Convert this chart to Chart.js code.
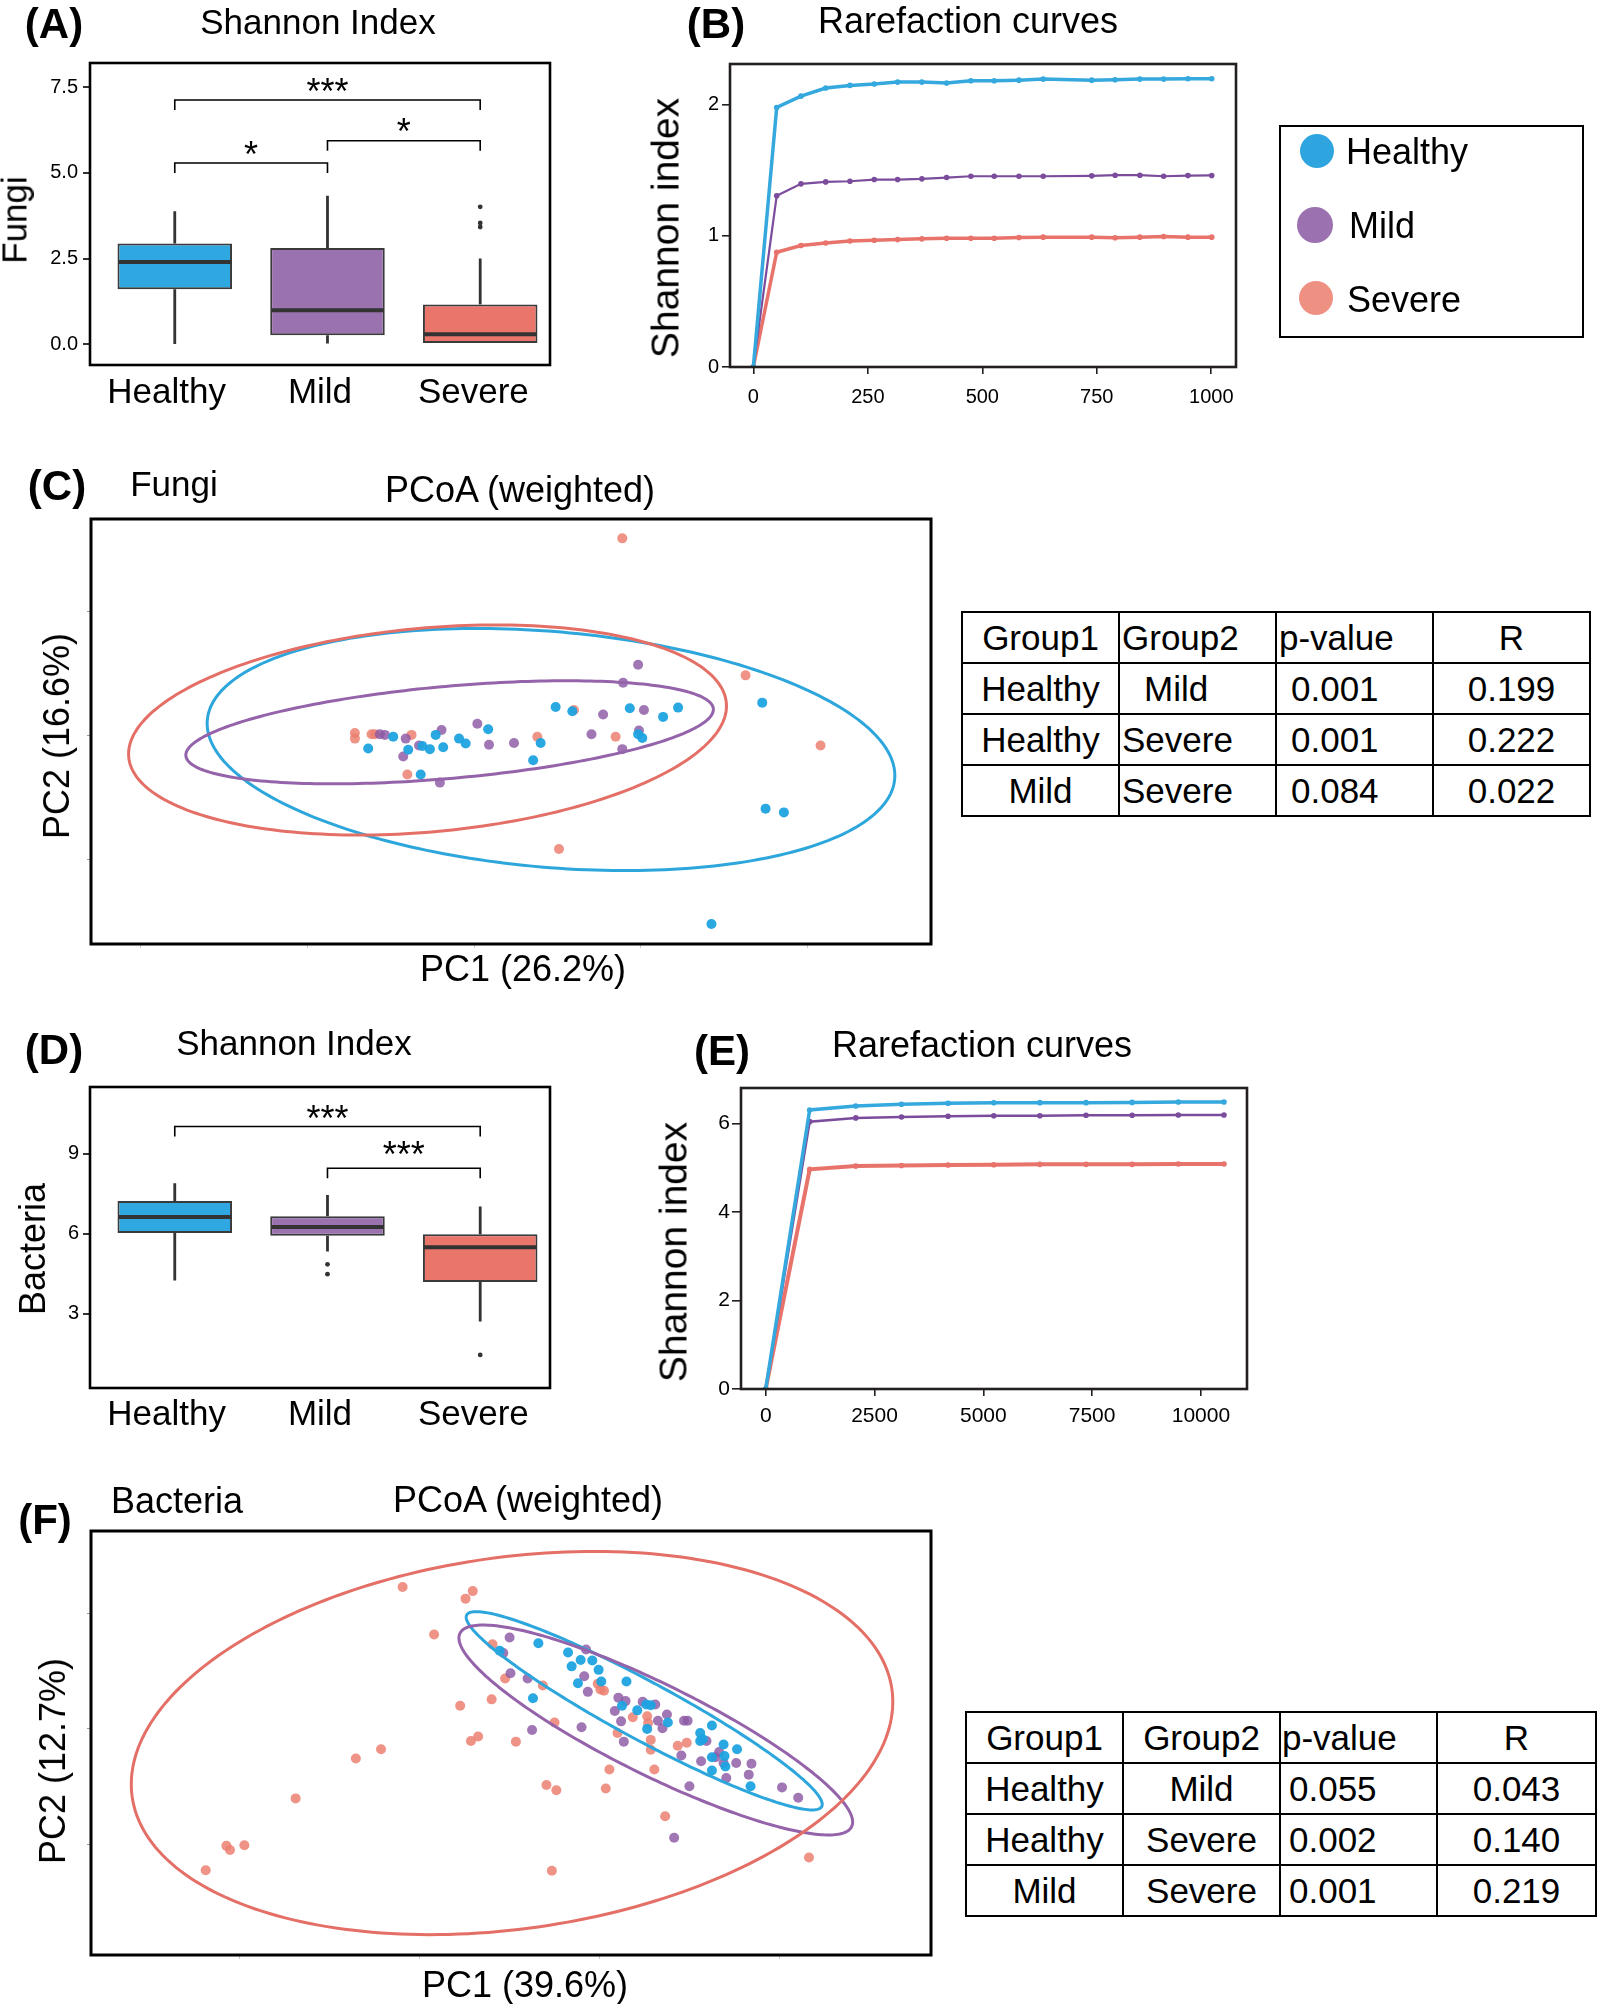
<!DOCTYPE html>
<html>
<head>
<meta charset="utf-8">
<script src="https://cdn.jsdelivr.net/npm/chart.js@4.4.1/dist/chart.umd.min.js"></script>
<style>
html,body{margin:0;padding:0;background:#fff;}
body{width:1600px;height:2004px;position:relative;overflow:hidden;font-family:"Liberation Sans",Arial,Helvetica,sans-serif;color:#000;}
canvas{position:absolute;}
.t{position:absolute;white-space:nowrap;transform:translate(-50%,-50%);line-height:1;}
.tl{position:absolute;white-space:nowrap;transform:translate(0,-50%);line-height:1;}
.b{font-weight:bold;}
table.st{position:absolute;border-collapse:collapse;table-layout:fixed;font-size:35px;line-height:1;}
table.st td{border:2.5px solid #000;padding:0;height:49px;white-space:nowrap;overflow:visible;}
td.c{text-align:center;}
td.l{text-align:left;}
.legend{position:absolute;left:1279px;top:125px;width:305px;height:213px;border:2.5px solid #000;box-sizing:border-box;}
.dot{position:absolute;border-radius:50%;transform:translate(-50%,-50%);}
</style>
</head>
<body>
<canvas id="cA" width="600" height="397" style="left:0px;top:33px"></canvas>
<canvas id="cB" width="640" height="391" style="left:640px;top:34px"></canvas>
<canvas id="cC" width="900" height="486" style="left:61px;top:489px"></canvas>
<canvas id="cD" width="600" height="393" style="left:0px;top:1057px"></canvas>
<canvas id="cE" width="650" height="392" style="left:640px;top:1058px"></canvas>
<canvas id="cF" width="900" height="489" style="left:61px;top:1501px"></canvas>

<!-- Panel labels & titles -->
<div class="t b" style="left:54px;top:24px;font-size:42px">(A)</div>
<div class="t" style="left:318px;top:21px;font-size:35px">Shannon Index</div>
<div class="t" style="left:14px;top:220px;font-size:35px;transform:translate(-50%,-50%) rotate(-90deg)">Fungi</div>

<div class="t b" style="left:716px;top:24px;font-size:42px">(B)</div>
<div class="t" style="left:968px;top:21px;font-size:36px">Rarefaction curves</div>
<div class="t" style="left:665px;top:228px;font-size:39px;transform:translate(-50%,-50%) rotate(-90deg)">Shannon index</div>

<div class="legend">
  <div class="dot" style="left:36px;top:24px;width:34px;height:34px;background:#2FA5DF"></div>
  <div class="tl" style="left:65px;top:25px;font-size:36px">Healthy</div>
  <div class="dot" style="left:34px;top:98px;width:36px;height:36px;background:#9B71B0"></div>
  <div class="tl" style="left:68px;top:99px;font-size:36px">Mild</div>
  <div class="dot" style="left:35px;top:171px;width:34px;height:34px;background:#EE9183"></div>
  <div class="tl" style="left:66px;top:173px;font-size:36px">Severe</div>
</div>

<div class="t b" style="left:57px;top:486px;font-size:42px">(C)</div>
<div class="t" style="left:174px;top:483px;font-size:35px">Fungi</div>
<div class="t" style="left:520px;top:490px;font-size:36px">PCoA (weighted)</div>
<div class="t" style="left:523px;top:969px;font-size:36px">PC1 (26.2%)</div>
<div class="t" style="left:57px;top:736px;font-size:36px;transform:translate(-50%,-50%) rotate(-90deg)">PC2 (16.6%)</div>

<table class="st" style="left:961px;top:611px;width:628px;">
<colgroup><col style="width:157px"><col style="width:157px"><col style="width:157px"><col style="width:157px"></colgroup>
<tr><td class="c">Group1</td><td class="l" style="padding-left:2px">Group2</td><td class="l" style="padding-left:2px">p-value</td><td class="c">R</td></tr>
<tr><td class="c">Healthy</td><td class="l" style="padding-left:24px">Mild</td><td class="l" style="padding-left:14px">0.001</td><td class="c">0.199</td></tr>
<tr><td class="c">Healthy</td><td class="l" style="padding-left:2px">Severe</td><td class="l" style="padding-left:14px">0.001</td><td class="c">0.222</td></tr>
<tr><td class="c">Mild</td><td class="l" style="padding-left:2px">Severe</td><td class="l" style="padding-left:14px">0.084</td><td class="c">0.022</td></tr>
</table>

<div class="t b" style="left:54px;top:1050px;font-size:42px">(D)</div>
<div class="t" style="left:294px;top:1042px;font-size:35px">Shannon Index</div>
<div class="t" style="left:33px;top:1249px;font-size:36px;transform:translate(-50%,-50%) rotate(-90deg)">Bacteria</div>

<div class="t b" style="left:722px;top:1051px;font-size:42px">(E)</div>
<div class="t" style="left:982px;top:1045px;font-size:36px">Rarefaction curves</div>
<div class="t" style="left:673px;top:1252px;font-size:39px;transform:translate(-50%,-50%) rotate(-90deg)">Shannon index</div>

<div class="t b" style="left:45px;top:1520px;font-size:42px">(F)</div>
<div class="t" style="left:177px;top:1501px;font-size:36px">Bacteria</div>
<div class="t" style="left:528px;top:1500px;font-size:36px">PCoA (weighted)</div>
<div class="t" style="left:525px;top:1985px;font-size:36px">PC1 (39.6%)</div>
<div class="t" style="left:53px;top:1761px;font-size:36px;transform:translate(-50%,-50%) rotate(-90deg)">PC2 (12.7%)</div>

<table class="st" style="left:965px;top:1711px;width:630px;">
<colgroup><col style="width:157px"><col style="width:157px"><col style="width:157px"><col style="width:159px"></colgroup>
<tr><td class="c">Group1</td><td class="c">Group2</td><td class="l" style="padding-left:1px">p-value</td><td class="c">R</td></tr>
<tr><td class="c">Healthy</td><td class="c">Mild</td><td class="l" style="padding-left:8px">0.055</td><td class="c">0.043</td></tr>
<tr><td class="c">Healthy</td><td class="c">Severe</td><td class="l" style="padding-left:8px">0.002</td><td class="c">0.140</td></tr>
<tr><td class="c">Mild</td><td class="c">Severe</td><td class="l" style="padding-left:8px">0.001</td><td class="c">0.219</td></tr>
</table>

<script>
// ---------------- DATA ----------------
const groups = ['Healthy', 'Mild', 'Severe'];
const groupIndex = [0, 1, 2];

// (A) Fungi Shannon index box plots
const fungiLow = [0.00, 0.02, 0.00];
const fungiQ1 = [1.60, 0.26, 0.00];
const fungiMedian = [2.40, 0.99, 0.29];
const fungiQ3 = [2.94, 2.81, 1.16];
const fungiHigh = [3.88, 4.33, 2.50];
const fungiOutliers = [[], [], [3.42, 3.54, 4.01]];
const fungiBrackets = [[0, 2, 7.13, '***'], [0, 1, 5.29, '*'], [1, 2, 5.94, '*']];
const fungiTicksY = [0, 2.5, 5, 7.5];

// (B) Fungi rarefaction curves
const rareFungiX = [0, 51, 104, 158, 211, 264, 315, 368, 422, 475, 526, 580, 633, 739, 790, 844, 896, 949, 1001];
const rareFungiHealthy = [0, 1.977, 2.063, 2.125, 2.145, 2.155, 2.170, 2.170, 2.163, 2.180, 2.180, 2.185, 2.193, 2.185, 2.188, 2.193, 2.193, 2.196, 2.196];
const rareFungiMild = [0, 1.304, 1.395, 1.410, 1.415, 1.428, 1.428, 1.433, 1.443, 1.453, 1.453, 1.453, 1.453, 1.456, 1.461, 1.461, 1.453, 1.458, 1.459];
const rareFungiSevere = [0, 0.874, 0.925, 0.945, 0.960, 0.966, 0.971, 0.976, 0.981, 0.981, 0.981, 0.986, 0.989, 0.989, 0.984, 0.989, 0.994, 0.989, 0.989];
const rareFungiTicksX = [0, 250, 500, 750, 1000];
const rareFungiTicksY = [0, 1, 2];

// (C) Fungi PCoA (PC1, PC2)
const pcoaFungiHealthy = [[-0.127,-0.021],[-0.097,-0.002],[-0.079,-0.023],[-0.062,-0.017],[-0.053,-0.022],[-0.046,0.001],[-0.037,-0.019],[-0.018,-0.005],[-0.010,-0.013],[0.017,0.010],[0.080,-0.012],[0.071,-0.040],[-0.064,-0.063],[0.098,0.046],[0.118,0.039],[0.187,0.044],[0.227,0.030],[0.245,0.045],[0.197,0.002],[0.202,-0.004],[0.285,-0.304],[0.346,0.053],[0.350,-0.118],[0.372,-0.124]];
const pcoaFungiMild = [[0.197,0.114],[0.179,0.085],[0.204,0.041],[0.155,0.034],[0.141,0.002],[0.198,0.008],[0.178,-0.022],[0.048,-0.012],[0.018,-0.015],[0.004,0.019],[-0.039,0.009],[-0.082,-0.005],[-0.085,-0.034],[-0.041,-0.076],[-0.066,-0.016],[-0.113,0.002],[-0.107,0.001]];
const pcoaFungiSevere = [[-0.143,0.004],[-0.143,-0.005],[-0.123,0.002],[-0.119,0.002],[-0.075,0.001],[-0.080,-0.063],[0.076,-0.002],[0.120,0.041],[0.170,-0.002],[0.178,0.318],[0.326,0.097],[0.416,-0.016],[0.102,-0.183]];
// ellipse: centre x, centre y, semi-axis 1 (dx, dy), semi-axis 2 (dx, dy)
const ellFungiHealthy = [0.0924, -0.0226, 0.4126, -0.0476, -0.0121, -0.1894];
const ellFungiMild = [-0.0293, 0.0052, 0.3166, 0.0379, 0.0049, -0.0740];
const ellFungiSevere = [-0.0558, 0.0089, 0.3587, 0.0437, 0.0110, -0.1637];
const pcoaFungiTicksX = [-0.4, -0.2, 0, 0.2, 0.4];
const pcoaFungiTicksY = [-0.2, 0, 0.2];

// (D) Bacteria Shannon index box plots
const bactLow = [4.25, 5.34, 2.71];
const bactQ1 = [6.03, 5.93, 4.20];
const bactMedian = [6.63, 6.26, 5.50];
const bactQ3 = [7.23, 6.66, 5.99];
const bactHigh = [7.90, 7.46, 7.03];
const bactOutliers = [[], [4.49, 4.86], [1.46]];
const bactBrackets = [[0, 2, 10.03, '***'], [1, 2, 8.46, '***']];
const bactTicksY = [3, 6, 9];

// (E) Bacteria rarefaction curves
const rareBactX = [0, 1010, 2070, 3120, 4190, 5240, 6300, 7360, 8420, 9480, 10530];
const rareBactHealthy = [0, 6.31, 6.40, 6.44, 6.46, 6.47, 6.475, 6.475, 6.48, 6.49, 6.49];
const rareBactMild = [0, 6.045, 6.13, 6.15, 6.166, 6.18, 6.18, 6.19, 6.19, 6.196, 6.196];
const rareBactSevere = [0, 4.966, 5.04, 5.055, 5.064, 5.07, 5.08, 5.08, 5.08, 5.087, 5.087];
const rareBactTicksX = [0, 2500, 5000, 7500, 10000];
const rareBactTicksY = [0, 2, 4, 6];

// (F) Bacteria PCoA
const pcoaBactHealthy = [[0.132,0.148],[0.089,0.135],[0.165,0.132],[0.169,0.108],[0.179,0.119],[0.192,0.118],[0.199,0.102],[0.176,0.079],[0.202,0.082],[0.230,0.082],[0.126,0.053],[0.225,0.040],[0.242,0.032],[0.252,0.042],[0.257,0.041],[0.276,0.011],[0.253,0.000],[0.312,-0.007],[0.315,-0.018],[0.325,0.006],[0.338,-0.027],[0.353,-0.035],[0.325,-0.049],[0.339,-0.047],[0.340,-0.065],[0.325,-0.072],[0.368,-0.099],[0.312,-0.021]];
const pcoaBactMild = [[0.100,0.158],[0.093,0.131],[0.101,0.096],[0.120,0.087],[0.185,0.137],[0.183,0.091],[0.187,0.064],[0.221,0.054],[0.229,0.048],[0.217,0.031],[0.224,0.013],[0.248,0.047],[0.262,0.042],[0.265,0.014],[0.275,0.025],[0.270,0.001],[0.294,0.014],[0.298,0.014],[0.227,-0.022],[0.180,0.003],[0.125,-0.002],[0.291,-0.046],[0.313,-0.056],[0.319,-0.021],[0.333,-0.040],[0.352,-0.059],[0.341,-0.085],[0.366,-0.079],[0.369,-0.060],[0.300,-0.099],[0.403,-0.101],[0.421,-0.119],[0.283,-0.188],[0.329,-0.049],[0.338,-0.059]];
const pcoaBactSevere = [[-0.019,0.245],[0.051,0.225],[0.059,0.238],[0.016,0.163],[0.081,0.146],[0.095,0.087],[0.137,0.075],[0.045,0.040],[0.080,0.051],[0.057,-0.021],[0.065,-0.013],[0.107,-0.022],[0.150,0.011],[-0.043,-0.035],[-0.071,-0.051],[-0.138,-0.120],[-0.215,-0.202],[-0.211,-0.209],[-0.195,-0.201],[-0.238,-0.244],[0.147,-0.245],[0.141,-0.097],[0.152,-0.106],[0.207,-0.103],[0.211,-0.070],[0.273,-0.151],[0.261,-0.070],[0.433,-0.222],[0.198,0.078],[0.201,0.068],[0.205,0.066],[0.220,-0.007],[0.237,0.020],[0.254,0.010],[0.257,-0.019],[0.257,-0.036],[0.253,0.022],[0.287,-0.029],[0.297,-0.024]];
const ellBactHealthy = [0.2497, 0.0313, 0.1974, -0.1655, -0.0154, -0.0440];
const ellBactMild = [0.2626, -0.0019, 0.2178, -0.1670, -0.0225, -0.0705];
const ellBactSevere = [0.1027, -0.0244, 0.4225, 0.0931, 0.0290, -0.3176];
const pcoaBactTicksX = [-0.2, 0, 0.2, 0.4];
const pcoaBactTicksY = [-0.2, 0, 0.2];

// ---------------- STYLE ----------------
const boxFill = ['#2FA7E0', '#9A72AF', '#EA756B'];
const lineCol = ['#35A8DE', '#7B4C9B', '#E8736B'];
const ptCol = ['rgba(30,163,224,0.95)', 'rgba(140,88,165,0.82)', 'rgba(236,128,114,0.85)'];
const ellCol = ['#2DA6DB', '#9563AA', '#E46F66'];
const fungiStarGap = [4, 4, 3];
const bactStarGap = [5, -1];

Chart.defaults.font.family = '"Liberation Sans", Arial, Helvetica, sans-serif';
Chart.defaults.color = '#000';

// ---------------- PLUGINS ----------------
const framePlugin = {
  id: 'frame',
  afterDraw(chart, args, o) {
    const a = chart.chartArea, c = chart.ctx;
    c.save();
    c.strokeStyle = o.color || '#000';
    c.lineWidth = o.width || 2.5;
    c.strokeRect(a.left, a.top, a.right - a.left, a.bottom - a.top);
    c.restore();
  }
};

const boxDecor = {
  id: 'boxDecor',
  afterDatasetsDraw(chart, args, o) {
    const c = chart.ctx, x = chart.scales.x, y = chart.scales.y;
    const meta = chart.getDatasetMeta(0);
    c.save();
    o.median.forEach((m, i) => {
      const bar = meta.data[i];
      const cx = bar.x, hw = bar.width / 2;
      c.strokeStyle = '#333333';
      c.lineWidth = 2.8;
      c.beginPath();
      c.moveTo(cx, y.getPixelForValue(o.q3[i])); c.lineTo(cx, y.getPixelForValue(o.high[i]));
      c.moveTo(cx, y.getPixelForValue(o.q1[i])); c.lineTo(cx, y.getPixelForValue(o.low[i]));
      c.stroke();
      c.lineWidth = 4;
      const my = y.getPixelForValue(m);
      c.beginPath(); c.moveTo(cx - hw + 1, my); c.lineTo(cx + hw - 1, my); c.stroke();
      c.fillStyle = '#333333';
      o.outliers[i].forEach(v => {
        c.beginPath(); c.arc(cx, y.getPixelForValue(v), 2.4, 0, Math.PI * 2); c.fill();
      });
    });
    c.strokeStyle = '#000'; c.fillStyle = '#000'; c.lineWidth = 1.6;
    c.font = '36px "Liberation Sans", Arial, sans-serif';
    c.textAlign = 'center'; c.textBaseline = 'alphabetic';
    o.brackets.forEach((b, k) => {
      const x1 = x.getPixelForValue(b[0]), x2 = x.getPixelForValue(b[1]), by = y.getPixelForValue(b[2]);
      c.beginPath();
      c.moveTo(x1, by + 10); c.lineTo(x1, by); c.lineTo(x2, by); c.lineTo(x2, by + 10);
      c.stroke();
      c.fillText(b[3], (x1 + x2) / 2, by + o.gaps[k]);
    });
    c.restore();
  }
};

const ellipsePlugin = {
  id: 'ellipses',
  afterDatasetsDraw(chart, args, o) {
    const x = chart.scales.x, y = chart.scales.y, c = chart.ctx;
    c.save();
    c.lineWidth = o.width;
    o.items.forEach((e, j) => {
      c.strokeStyle = ellCol[j];
      c.beginPath();
      for (let k = 0; k <= 240; k++) {
        const t = k / 240 * Math.PI * 2;
        const vx = e[0] + e[2] * Math.cos(t) + e[4] * Math.sin(t);
        const vy = e[1] + e[3] * Math.cos(t) + e[5] * Math.sin(t);
        const px = x.getPixelForValue(vx), py = y.getPixelForValue(vy);
        if (k === 0) c.moveTo(px, py); else c.lineTo(px, py);
      }
      c.closePath();
      c.stroke();
    });
    c.restore();
  }
};

function setTicks(arr) { return s => { s.ticks = arr.map(v => ({ value: v })); }; }
function fixW(w) { return s => { s.width = w; }; }
function fixH(h) { return s => { s.height = h; }; }

// ---------------- BOX PLOTS ----------------
function boxChart(id, q1, q3, med, low, high, outl, brackets, gaps, ticksY, ymin, ymax, fmt, yW, xH, xPad, yPad, padR) {
  return new Chart(document.getElementById(id), {
    type: 'bar',
    data: {
      datasets: [{
        xAxisID: 'x',
        data: groupIndex.map(i => ({ x: i, y: [q1[i], q3[i]] })),
        backgroundColor: boxFill,
        borderColor: '#3a3a3a',
        borderWidth: 2,
        borderSkipped: false,
        barPercentage: 0.75,
        categoryPercentage: 1.0
      }]
    },
    options: {
      responsive: false, animation: false, devicePixelRatio: 1,
      layout: { padding: { top: 30, right: padR, left: 0, bottom: 0 } },
      plugins: {
        legend: { display: false }, tooltip: { enabled: false },
        frame: { width: 2.6 },
        boxDecor: { q1: q1, q3: q3, median: med, low: low, high: high, outliers: outl, brackets: brackets, gaps: gaps }
      },
      scales: {
        x: {
          type: 'linear', min: -0.555, max: 2.457, position: 'bottom', offset: false,
          afterBuildTicks: setTicks(groupIndex),
          grid: { display: false, drawTicks: false, offset: false }, border: { display: false },
          ticks: { display: false },
          afterFit: fixH(0)
        },
        xc: {
          type: 'category', labels: groups, offset: true, position: 'bottom',
          grid: { display: false, drawTicks: false }, border: { display: false },
          ticks: { font: { size: 35 }, padding: xPad, color: '#000', maxRotation: 0 },
          afterFit: fixH(xH)
        },
        y: {
          type: 'linear', min: ymin, max: ymax,
          afterBuildTicks: setTicks(ticksY),
          grid: { drawOnChartArea: false, drawTicks: true, tickLength: 7, color: '#333', lineWidth: 2 },
          border: { display: false },
          ticks: { font: { size: 20 }, padding: yPad, color: '#000', callback: fmt },
          afterFit: fixW(yW)
        }
      }
    },
    plugins: [boxDecor, framePlugin]
  });
}

boxChart('cA', fungiQ1, fungiQ3, fungiMedian, fungiLow, fungiHigh, fungiOutliers, fungiBrackets, fungiStarGap,
  fungiTicksY, -0.61, 8.21, v => v.toFixed(1), 90, 65, 7, 5, 50);
boxChart('cD', bactQ1, bactQ3, bactMedian, bactLow, bactHigh, bactOutliers, bactBrackets, bactStarGap,
  bactTicksY, 0.22, 11.51, v => String(v), 90, 62, 6, 4, 50);

// ---------------- RAREFACTION ----------------
function rareChart(id, xs, series, ticksX, ticksY, xmin, xmax, ymax, yW, xH, padR, xPad, yPad, widths, fs, yTick) {
  return new Chart(document.getElementById(id), {
    type: 'scatter',
    data: {
      datasets: series.map((s, j) => ({
        data: xs.map((xv, i) => ({ x: xv, y: s[i] })),
        showLine: true,
        borderColor: lineCol[j],
        backgroundColor: lineCol[j],
        borderWidth: widths[j],
        pointRadius: 2.8,
        pointBorderWidth: 0,
        pointBackgroundColor: lineCol[j],
        tension: 0
      }))
    },
    options: {
      responsive: false, animation: false, devicePixelRatio: 1,
      layout: { padding: { top: 30, right: padR, left: 0, bottom: 0 } },
      plugins: { legend: { display: false }, tooltip: { enabled: false }, frame: { width: 2.6, color: '#231F20' } },
      scales: {
        x: {
          type: 'linear', min: xmin, max: xmax,
          afterBuildTicks: setTicks(ticksX),
          grid: { drawOnChartArea: false, drawTicks: true, tickLength: 7, color: '#231F20', lineWidth: 1.6 },
          border: { display: false },
          ticks: { font: { size: fs }, padding: xPad, color: '#000', maxRotation: 0, callback: v => String(v) },
          afterFit: fixH(xH)
        },
        y: {
          type: 'linear', min: 0, max: ymax,
          afterBuildTicks: setTicks(ticksY),
          grid: { drawOnChartArea: false, drawTicks: true, tickLength: yTick, color: '#231F20', lineWidth: 1.6 },
          border: { display: false },
          ticks: { font: { size: fs }, padding: yPad, color: '#000', callback: v => String(v) },
          afterFit: fixW(yW)
        }
      }
    },
    plugins: [framePlugin]
  });
}

rareChart('cB', rareFungiX, [rareFungiHealthy, rareFungiMild, rareFungiSevere], rareFungiTicksX, rareFungiTicksY,
  -51, 1054, 2.308, 90, 58, 44, 11, 3, [3.5, 2.2, 3.5], 20, 8);
rareChart('cE', rareBactX, [rareBactHealthy, rareBactMild, rareBactSevere], rareBactTicksX, rareBactTicksY,
  -568, 11059, 6.806, 101, 61, 43, 8, 2, [3.5, 2.5, 4], 21, 9);

// ---------------- PCoA ----------------
function pcoaChart(id, pts, ells, ticksX, ticksY, xmin, xmax, ymin, ymax, xH) {
  return new Chart(document.getElementById(id), {
    type: 'scatter',
    data: {
      datasets: pts.map((arr, j) => ({
        data: arr.map(p => ({ x: p[0], y: p[1] })),
        pointRadius: 5,
        pointBorderWidth: 0,
        pointBackgroundColor: ptCol[j],
        backgroundColor: ptCol[j]
      }))
    },
    options: {
      responsive: false, animation: false, devicePixelRatio: 1,
      layout: { padding: { top: 30, right: 30, left: 0, bottom: 0 } },
      plugins: {
        legend: { display: false }, tooltip: { enabled: false },
        frame: { width: 3 },
        ellipses: { items: ells, width: 3 }
      },
      scales: {
        x: {
          type: 'linear', min: xmin, max: xmax,
          afterBuildTicks: setTicks(ticksX),
          grid: { drawOnChartArea: false, drawTicks: true, tickLength: 4, color: '#c8c8c8', lineWidth: 1 },
          border: { display: false },
          ticks: { callback: () => '', padding: 0 },
          afterFit: fixH(xH)
        },
        y: {
          type: 'linear', min: ymin, max: ymax,
          afterBuildTicks: setTicks(ticksY),
          grid: { drawOnChartArea: false, drawTicks: true, tickLength: 4, color: '#9a9a9a', lineWidth: 1 },
          border: { display: false },
          ticks: { callback: () => '', padding: 0 },
          afterFit: fixW(30)
        }
      }
    },
    plugins: [ellipsePlugin, framePlugin]
  });
}

pcoaChart('cC', [pcoaFungiHealthy, pcoaFungiMild, pcoaFungiSevere], [ellFungiHealthy, ellFungiMild, ellFungiSevere],
  pcoaFungiTicksX, pcoaFungiTicksY, -0.4598, 0.5486, -0.3363, 0.3492, 31);
pcoaChart('cF', [pcoaBactHealthy, pcoaBactMild, pcoaBactSevere], [ellBactHealthy, ellBactMild, ellBactSevere],
  pcoaBactTicksX, pcoaBactTicksY, -0.3656, 0.5687, -0.3905, 0.3418, 35);
</script>
</body>
</html>
